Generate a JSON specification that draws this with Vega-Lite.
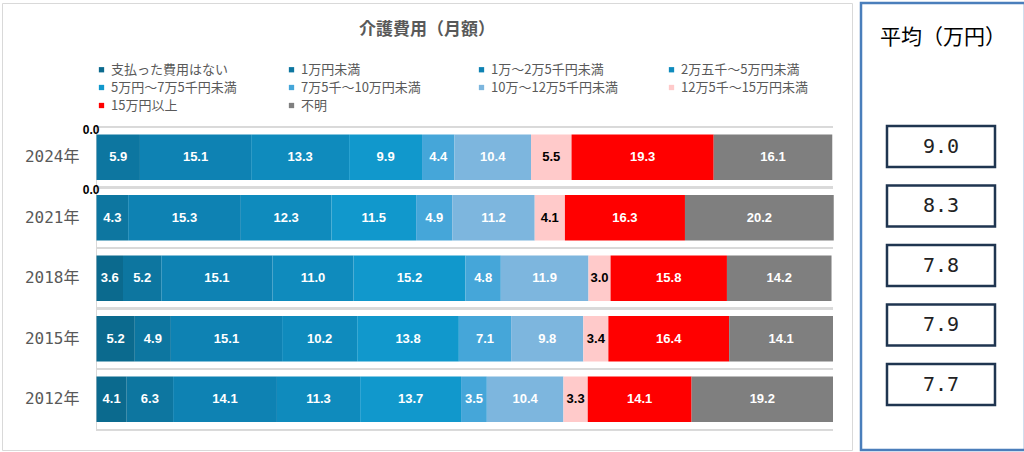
{
  "$schema": "https://vega.github.io/schema/vega-lite/v6.json",
  "background": "white",
  "padding": {"left": 1, "top": 1, "right": 2, "bottom": 2},
  "spacing": 6,
  "config": {
    "font": "Noto Sans CJK JP",
    "view": {"continuousWidth": 100}
  },
  "datasets": {
    "cost": [
      {"year": "2024年", "cat": "支払った費用はない", "i": 0, "v": 0.0},
      {"year": "2024年", "cat": "1万円未満", "i": 1, "v": 5.9},
      {"year": "2024年", "cat": "1万～2万5千円未満", "i": 2, "v": 15.1},
      {"year": "2024年", "cat": "2万五千～5万円未満", "i": 3, "v": 13.3},
      {"year": "2024年", "cat": "5万円～7万5千円未満", "i": 4, "v": 9.9},
      {"year": "2024年", "cat": "7万5千～10万円未満", "i": 5, "v": 4.4},
      {"year": "2024年", "cat": "10万～12万5千円未満", "i": 6, "v": 10.4},
      {"year": "2024年", "cat": "12万5千～15万円未満", "i": 7, "v": 5.5},
      {"year": "2024年", "cat": "15万円以上", "i": 8, "v": 19.3},
      {"year": "2024年", "cat": "不明", "i": 9, "v": 16.1},
      {"year": "2021年", "cat": "支払った費用はない", "i": 0, "v": 0.0},
      {"year": "2021年", "cat": "1万円未満", "i": 1, "v": 4.3},
      {"year": "2021年", "cat": "1万～2万5千円未満", "i": 2, "v": 15.3},
      {"year": "2021年", "cat": "2万五千～5万円未満", "i": 3, "v": 12.3},
      {"year": "2021年", "cat": "5万円～7万5千円未満", "i": 4, "v": 11.5},
      {"year": "2021年", "cat": "7万5千～10万円未満", "i": 5, "v": 4.9},
      {"year": "2021年", "cat": "10万～12万5千円未満", "i": 6, "v": 11.2},
      {"year": "2021年", "cat": "12万5千～15万円未満", "i": 7, "v": 4.1},
      {"year": "2021年", "cat": "15万円以上", "i": 8, "v": 16.3},
      {"year": "2021年", "cat": "不明", "i": 9, "v": 20.2},
      {"year": "2018年", "cat": "支払った費用はない", "i": 0, "v": 3.6},
      {"year": "2018年", "cat": "1万円未満", "i": 1, "v": 5.2},
      {"year": "2018年", "cat": "1万～2万5千円未満", "i": 2, "v": 15.1},
      {"year": "2018年", "cat": "2万五千～5万円未満", "i": 3, "v": 11.0},
      {"year": "2018年", "cat": "5万円～7万5千円未満", "i": 4, "v": 15.2},
      {"year": "2018年", "cat": "7万5千～10万円未満", "i": 5, "v": 4.8},
      {"year": "2018年", "cat": "10万～12万5千円未満", "i": 6, "v": 11.9},
      {"year": "2018年", "cat": "12万5千～15万円未満", "i": 7, "v": 3.0},
      {"year": "2018年", "cat": "15万円以上", "i": 8, "v": 15.8},
      {"year": "2018年", "cat": "不明", "i": 9, "v": 14.2},
      {"year": "2015年", "cat": "支払った費用はない", "i": 0, "v": 5.2},
      {"year": "2015年", "cat": "1万円未満", "i": 1, "v": 4.9},
      {"year": "2015年", "cat": "1万～2万5千円未満", "i": 2, "v": 15.1},
      {"year": "2015年", "cat": "2万五千～5万円未満", "i": 3, "v": 10.2},
      {"year": "2015年", "cat": "5万円～7万5千円未満", "i": 4, "v": 13.8},
      {"year": "2015年", "cat": "7万5千～10万円未満", "i": 5, "v": 7.1},
      {"year": "2015年", "cat": "10万～12万5千円未満", "i": 6, "v": 9.8},
      {"year": "2015年", "cat": "12万5千～15万円未満", "i": 7, "v": 3.4},
      {"year": "2015年", "cat": "15万円以上", "i": 8, "v": 16.4},
      {"year": "2015年", "cat": "不明", "i": 9, "v": 14.1},
      {"year": "2012年", "cat": "支払った費用はない", "i": 0, "v": 4.1},
      {"year": "2012年", "cat": "1万円未満", "i": 1, "v": 6.3},
      {"year": "2012年", "cat": "1万～2万5千円未満", "i": 2, "v": 14.1},
      {"year": "2012年", "cat": "2万五千～5万円未満", "i": 3, "v": 11.3},
      {"year": "2012年", "cat": "5万円～7万5千円未満", "i": 4, "v": 13.7},
      {"year": "2012年", "cat": "7万5千～10万円未満", "i": 5, "v": 3.5},
      {"year": "2012年", "cat": "10万～12万5千円未満", "i": 6, "v": 10.4},
      {"year": "2012年", "cat": "12万5千～15万円未満", "i": 7, "v": 3.3},
      {"year": "2012年", "cat": "15万円以上", "i": 8, "v": 14.1},
      {"year": "2012年", "cat": "不明", "i": 9, "v": 19.2}
    ],
    "avg": [
      {"year": "2024年", "avg": 9.0},
      {"year": "2021年", "avg": 8.3},
      {"year": "2018年", "avg": 7.8},
      {"year": "2015年", "avg": 7.9},
      {"year": "2012年", "avg": 7.7}
    ]
  },
  "resolve": {"scale": {"x": "independent", "y": "independent", "color": "independent"}},
  "hconcat": [
    {
      "width": 850,
      "height": 447,
      "view": {"stroke": "#d9d9d9", "strokeWidth": 1},
      "title": {
        "text": "介護費用（月額）",
        "frame": "group",
        "anchor": "middle",
        "baseline": "middle",
        "offset": -44,
        "fontSize": 17,
        "fontWeight": "bold",
        "color": "#595959"
      },
      "data": {"name": "cost"},
      "transform": [
        {"stack": "v", "groupby": ["year"], "sort": [{"field": "i"}], "as": ["x0", "x1"]},
        {"calculate": "(datum.x0 + datum.x1) / 2", "as": "xm"}
      ],
      "encoding": {
        "y": {
          "field": "year",
          "type": "nominal",
          "sort": ["2024年", "2021年", "2018年", "2015年", "2012年"],
          "scale": {"range": [124, 426.5], "paddingInner": 0.25, "paddingOuter": 0.125},
          "axis": {
            "title": null,
            "orient": "left",
            "offset": -94,
            "domain": false,
            "ticks": false,
            "grid": false,
            "labelPadding": 17,
            "labelFontSize": 16,
            "labelColor": "#595959",
            "labelFont": "DejaVu Sans Mono, Noto Sans CJK JP"
          }
        }
      },
      "layer": [
        {
          "mark": {"type": "rule", "color": "#d9d9d9", "strokeWidth": 1.5},
          "encoding": {
            "x": {"datum": 0, "type": "quantitative", "scale": {"domain": [-12.83, 102.58], "nice": false, "zero": false}, "axis": null},
            "x2": {"datum": 100},
            "y": {"field": "year", "type": "nominal", "bandPosition": -0.17}
          }
        },
        {
          "mark": {"type": "rule", "color": "#d9d9d9", "strokeWidth": 1.5},
          "encoding": {
            "x": {"datum": 0, "type": "quantitative"},
            "x2": {"datum": 100},
            "y": {"field": "year", "type": "nominal", "bandPosition": 1.17}
          }
        },
        {
          "mark": {"type": "rule", "color": "#d9d9d9", "strokeWidth": 1},
          "encoding": {
            "x": {"datum": 0, "type": "quantitative"},
            "y": {"field": "year", "type": "nominal", "bandPosition": -0.17},
            "y2": {"field": "year", "bandPosition": 1.17}
          }
        },
        {
          "mark": {"type": "bar"},
          "encoding": {
            "x": {"field": "x0", "type": "quantitative"},
            "x2": {"field": "x1"},
            "color": {
              "field": "cat",
              "type": "nominal",
              "scale": {
                "domain": ["支払った費用はない", "1万円未満", "1万～2万5千円未満", "2万五千～5万円未満", "5万円～7万5千円未満", "7万5千～10万円未満", "10万～12万5千円未満", "12万5千～15万円未満", "15万円以上", "不明"],
                "range": ["#0b6a8e", "#0d76a0", "#0e82b3", "#0f8bbd", "#1198cc", "#45a6d9", "#7db6de", "#ffcaca", "#ff0000", "#7f7f7f"]
              },
              "legend": {
                "title": null,
                "orient": "none",
                "legendX": 93,
                "legendY": 60,
                "direction": "horizontal",
                "columns": 4,
                "gridAlign": "all",
                "columnPadding": 46,
                "rowPadding": 4,
                "padding": 0,
                "symbolType": "square",
                "symbolSize": 28,
                "symbolStrokeWidth": 0,
                "labelOffset": 3,
                "labelFontSize": 13,
                "labelColor": "#595959",
                "labelLimit": 300
              }
            }
          }
        },
        {
          "transform": [{"filter": "datum.v > 0"}],
          "mark": {"type": "text", "font": "Liberation Sans", "fontWeight": "bold", "fontSize": 13},
          "encoding": {
            "x": {"field": "xm", "type": "quantitative"},
            "text": {"field": "v", "type": "quantitative", "format": ".1f"},
            "color": {"condition": {"test": "datum.i == 7", "value": "#000000"}, "value": "#ffffff"}
          }
        },
        {
          "transform": [{"filter": "datum.v == 0"}],
          "mark": {"type": "text", "font": "Liberation Sans", "fontWeight": "bold", "fontSize": 12, "align": "right", "dx": 3, "dy": -5, "color": "#000000"},
          "encoding": {
            "x": {"field": "xm", "type": "quantitative"},
            "y": {"field": "year", "type": "nominal", "bandPosition": 0},
            "text": {"field": "v", "type": "quantitative", "format": ".1f"}
          }
        }
      ]
    },
    {
      "width": 164,
      "height": 447,
      "view": {"stroke": "#4a7ebb", "strokeWidth": 2.5},
      "title": {
        "text": "平均（万円）",
        "frame": "group",
        "anchor": "middle",
        "baseline": "middle",
        "offset": -56,
        "fontSize": 21,
        "fontWeight": "normal",
        "color": "#000000"
      },
      "data": {"name": "avg"},
      "encoding": {
        "y": {
          "field": "year",
          "type": "nominal",
          "sort": ["2024年", "2021年", "2018年", "2015年", "2012年"],
          "scale": {"range": [113.8, 411.3], "paddingInner": 0.31, "paddingOuter": 0.155},
          "axis": null
        }
      },
      "layer": [
        {
          "mark": {"type": "bar", "fill": "#ffffff", "stroke": "#1f3550", "strokeWidth": 2.5},
          "encoding": {
            "x": {"datum": 0, "type": "quantitative", "scale": {"domain": [-0.2407, 1.2778], "nice": false, "zero": false}, "axis": null},
            "x2": {"datum": 1}
          }
        },
        {
          "mark": {"type": "text", "font": "DejaVu Sans Mono", "fontSize": 20, "color": "#222222"},
          "encoding": {
            "x": {"datum": 0.5, "type": "quantitative"},
            "text": {"field": "avg", "type": "quantitative", "format": ".1f"}
          }
        }
      ]
    }
  ]
}
